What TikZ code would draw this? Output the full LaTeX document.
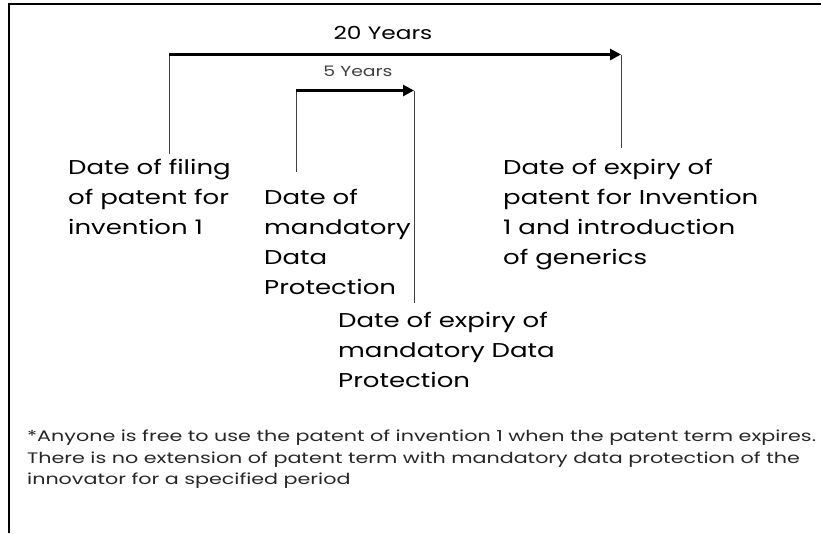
\documentclass[tikz,border=0pt]{standalone}
\usepackage{fontspec}
\setmainfont{Poppins}[FakeStretch=1.3]
\newfontfamily\notefont{Poppins}[FakeStretch=1.36]
\usetikzlibrary{arrows.meta}
\begin{document}
\begin{tikzpicture}[x=1pt,y=-1pt,
  lbl/.style={anchor=north west,align=left,inner sep=0pt,font=\fontsize{20}{30}\selectfont},
  span/.style={line width=3.5pt,-{Triangle[length=11pt,width=11pt]}},
  tick/.style={line width=0.8pt,draw=black!75},
  note/.style={anchor=north west,align=left,inner sep=0pt,font=\notefont\fontsize{15.2}{21.5}\selectfont,text=black!85}]
\useasboundingbox (0,0) rectangle (821,533);
\draw[line width=1.5pt] (821,4) -- (9,4) -- (9,533);
% coordinates
\coordinate (a1) at (169,54.5);
\coordinate (a2) at (621,54.5);
\coordinate (b1) at (296,90.5);
\coordinate (b2) at (414,90.5);
\node[font=\fontsize{17.9}{20}\selectfont] (t20) at (383,33) {20 Years};
\node[font=\fontsize{14.5}{16}\selectfont,text=black!75] (t5) at (358,71) {5 Years};
\node[lbl] (filing) at (68,159) {Date of filing\\of patent for\\invention 1};
\node[lbl] (mand) at (264,189) {Date of\\mandatory\\Data\\Protection};
\node[lbl] (exp) at (503,159) {Date of expiry of\\patent for Invention\\1 and introduction\\of generics};
\node[lbl] (mexp) at (338,312) {Date of expiry of\\mandatory Data\\Protection};
\node[note] (fn) at (27,430) {*Anyone is free to use the patent of invention 1 when the patent term expires.\\There is no extension of patent term with mandatory data protection of the\\innovator for a specified period};
\coordinate (c1) at (169,154);
\coordinate (c2) at (621,148);
\coordinate (c3) at (296,172);
\coordinate (c4) at (414,303);
\draw[tick] (c1) -- (a1);
\draw[tick] (c2) -- (a2);
\draw[tick] (c3) -- (b1);
\draw[tick] (c4) -- (b2);
\draw[span] (a1) -- (a2);
\draw[span] (b1) -- (b2);
\end{tikzpicture}
\end{document}
